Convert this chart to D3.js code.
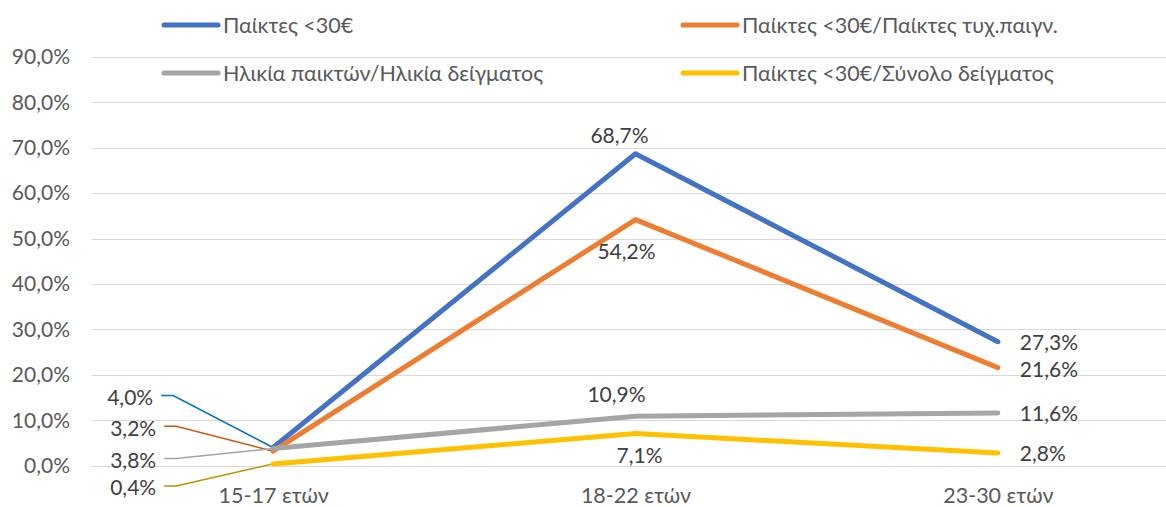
<!DOCTYPE html>
<html>
<head>
<meta charset="utf-8">
<script src="https://cdn.jsdelivr.net/npm/d3@7"></script>
<style>
  body { margin: 0; background: #fff; }
  svg { display: block; font-family: Lato, "Noto Sans", sans-serif; }
</style>
</head>
<body>
<div id="chart"></div>
<script>
const categories = ['15-17 ετών', '18-22 ετών', '23-30 ετών'];
const seriesNames = [
  'Παίκτες <30€',
  'Παίκτες <30€/Παίκτες τυχ.παιγν.',
  'Ηλικία παικτών/Ηλικία δείγματος',
  'Παίκτες <30€/Σύνολο δείγματος'
];
const playersUnder30 = [4.0, 68.7, 27.3];
const playersRatio = [3.2, 54.2, 21.6];
const ageRatio = [3.8, 10.9, 11.6];
const sampleRatio = [0.4, 7.1, 2.8];
const yTicks = [0, 10, 20, 30, 40, 50, 60, 70, 80, 90];

const width = 1166, height = 507;
const margin = { left: 92, right: -13, top: 57, bottom: 41 };

const colors = ['#4472C4', '#ED7D31', '#A5A5A5', '#FFC000'];
const leaderColors = ['#0070C0', '#C55A11', '#A5A5A5', '#BF9000'];

// label placement (pixel offsets from the point), per series, per category
const labelLayout = [
  [{ dx: -120, dy: -50, anchor: 'end', leader: true }, { dx: -16, dy: -18, anchor: 'middle' }, { dx: 22, dy: 1, anchor: 'start' }],
  [{ dx: -117, dy: -23, anchor: 'end', leader: true }, { dx: -9, dy: 32, anchor: 'middle' }, { dx: 22, dy: 2, anchor: 'start' }],
  [{ dx: -117, dy: 12, anchor: 'end', leader: true }, { dx: -19, dy: -22, anchor: 'middle' }, { dx: 22, dy: 1, anchor: 'start' }],
  [{ dx: -117, dy: 24, anchor: 'end', leader: true }, { dx: 4, dy: 22, anchor: 'middle' }, { dx: 22, dy: 1, anchor: 'start' }]
];

const series = [playersUnder30, playersRatio, ageRatio, sampleRatio].map((values, i) => ({
  name: seriesNames[i],
  color: colors[i],
  leader: leaderColors[i],
  values: values.map((v, j) => ({ cat: categories[j], v }))
}));

const fmt = v => v.toFixed(1).replace('.', ',') + '%';

const svg = d3.select('#chart')
  .append('svg')
  .attr('width', width)
  .attr('height', height);

const x = d3.scalePoint()
  .domain(categories)
  .range([margin.left, width - margin.right])
  .padding(0.5);

const y = d3.scaleLinear()
  .domain([0, 90])
  .range([height - margin.bottom - 0.3, margin.top]);

// gridlines
svg.append('g')
  .selectAll('line')
  .data(yTicks)
  .join('line')
  .attr('x1', margin.left)
  .attr('x2', width)
  .attr('y1', d => Math.round(y(d)) + 0.5)
  .attr('y2', d => Math.round(y(d)) + 0.5)
  .attr('stroke', '#D9D9D9')
  .attr('stroke-width', 1);

// y axis
const yAxis = svg.append('g')
  .attr('transform', `translate(${margin.left},0)`)
  .call(d3.axisLeft(y).tickValues(yTicks).tickSize(0).tickPadding(22).tickFormat(fmt));
yAxis.select('.domain').remove();
yAxis.selectAll('text')
  .attr('fill', '#595959')
  .style('font-size', '21px')
  .style('font-family', 'Lato, "Noto Sans", sans-serif');

// x axis
const xAxis = svg.append('g')
  .attr('transform', `translate(0,${y(0)})`)
  .call(d3.axisBottom(x).tickSize(0).tickPadding(22));
xAxis.select('.domain').remove();
xAxis.selectAll('text')
  .attr('fill', '#595959')
  .style('font-size', '21.5px')
  .style('font-family', 'Lato, "Noto Sans", sans-serif');

const line = d3.line()
  .x(d => x(d.cat))
  .y(d => y(d.v));

// leader lines for the first category
series.forEach((s, i) => {
  const d = s.values[0];
  const lay = labelLayout[i][0];
  const px = x(d.cat), py = y(d.v);
  const lx = px + lay.dx + 8, ly = py + lay.dy - 2;
  svg.append('polyline')
    .attr('points', [[lx, ly], [lx + 12, ly], [px, py]].map(p => p.join(',')).join(' '))
    .attr('fill', 'none')
    .attr('stroke', s.leader)
    .attr('stroke-width', 1.5);
});

svg.append('g')
  .selectAll('path')
  .data(series)
  .join('path')
  .attr('d', d => line(d.values))
  .attr('fill', 'none')
  .attr('stroke', d => d.color)
  .attr('stroke-width', 5)
  .attr('stroke-linecap', 'round')
  .attr('stroke-linejoin', 'round');

// data labels
series.forEach((s, i) => {
  svg.append('g')
    .selectAll('text')
    .data(s.values)
    .join('text')
    .attr('x', (d, j) => x(d.cat) + labelLayout[i][j].dx)
    .attr('y', (d, j) => y(d.v) + labelLayout[i][j].dy)
    .attr('dy', '0.35em')
    .attr('text-anchor', (d, j) => labelLayout[i][j].anchor)
    .attr('fill', '#404040')
    .style('font-size', '21px')
    .text(d => fmt(d.v));
});

// legend
const legendPos = [[164, 25], [683, 25], [164, 73], [683, 73]];
const legend = svg.append('g')
  .selectAll('g')
  .data(series)
  .join('g')
  .attr('transform', (d, i) => `translate(${legendPos[i][0]},${legendPos[i][1]})`);
legend.append('line')
  .attr('x1', 0).attr('x2', 54)
  .attr('stroke', d => d.color)
  .attr('stroke-width', 5)
  .attr('stroke-linecap', 'round');
legend.append('text')
  .attr('x', 59)
  .attr('dy', '0.35em')
  .attr('fill', '#595959')
  .style('font-size', '21.5px')
  .text(d => d.name);
</script>
</body>
</html>
